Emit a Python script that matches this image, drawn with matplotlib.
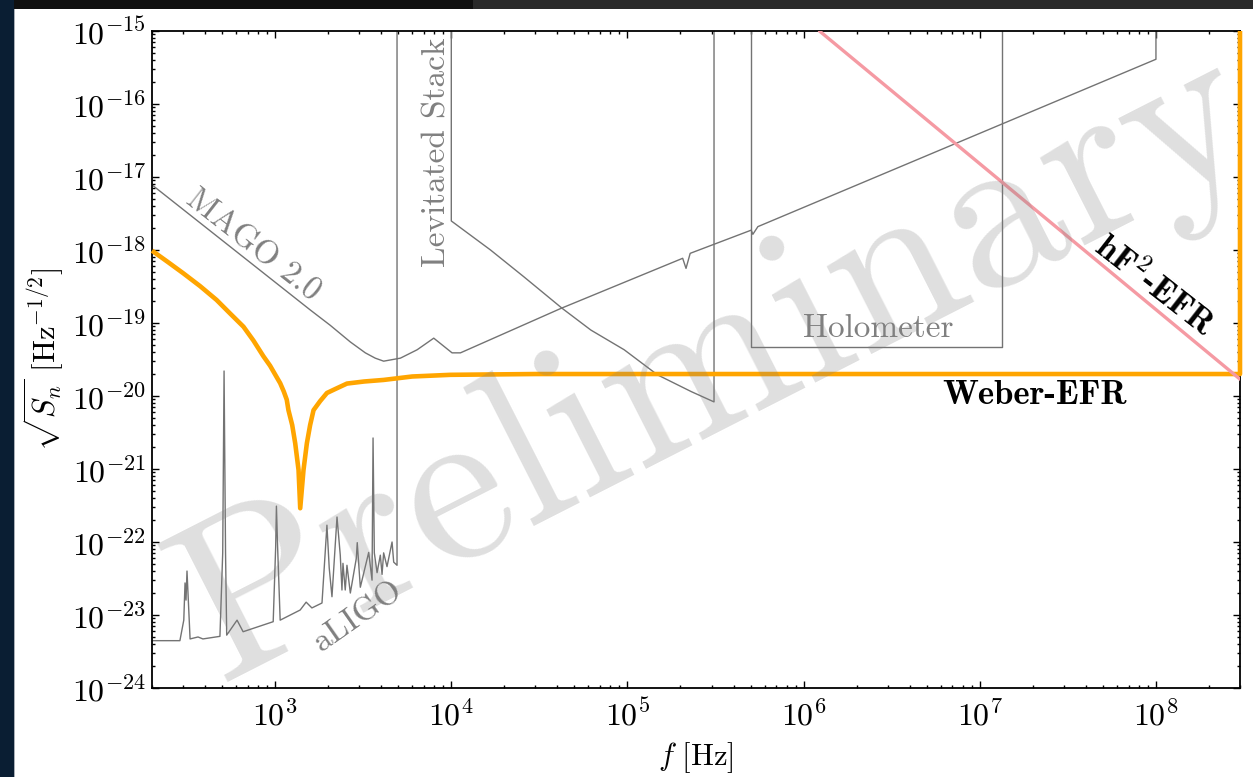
import matplotlib
matplotlib.use("Agg")
import numpy as np
import matplotlib.pyplot as plt
from matplotlib.patches import Rectangle
from matplotlib.ticker import NullFormatter, LogLocator

plt.rcParams.update({
    "font.family": "serif",
    "font.serif": ["cmr10", "DejaVu Serif"],
    "mathtext.fontset": "cm",
    "axes.formatter.use_mathtext": True,
    "axes.unicode_minus": True,
})

# Frequency axis range [Hz] and strain-noise range [Hz^-1/2]
f_range = (200, 3.0e8)
h_range = (1e-24, 1e-15)
f_ticks = [1e3, 1e4, 1e5, 1e6, 1e7, 1e8]
h_ticks = [1e-24, 1e-23, 1e-22, 1e-21, 1e-20, 1e-19, 1e-18, 1e-17, 1e-16, 1e-15]

# aLIGO design noise curve
aligo_f = [200, 288, 303, 308, 312, 316, 329, 365, 389, 486, 504, 513, 523, 531,
           608, 658, 975, 1007, 1017, 1033, 1068, 1387, 1500, 1617, 1845, 1968,
           2028, 2102, 2245, 2343, 2395, 2427, 2500, 2557, 2672, 2890, 2925, 3045,
           3397, 3549, 3596, 3656, 3790, 3955, 4045, 4130, 4316, 4610, 4710, 4920]
aligo_h = [4.45e-24, 4.45e-24, 8.5e-24, 2.75e-23, 1.6e-23, 4.0e-23, 4.7e-24, 5.0e-24,
           4.7e-24, 5.1e-24, 7.1e-23, 2.2e-20, 7.1e-23, 5.3e-24, 8.5e-24, 5.9e-24,
           8.1e-24, 8.5e-23, 3.1e-22, 8.5e-23, 8.5e-24, 1.17e-23, 1.5e-23, 1.25e-23,
           1.46e-23, 1.7e-22, 4.4e-23, 1.78e-23, 2.2e-22, 6.6e-23, 2.2e-23, 5.1e-23,
           2.2e-23, 4.8e-23, 2.0e-23, 6.0e-23, 9.8e-23, 2.4e-23, 7.2e-23, 3.0e-23,
           2.66e-21, 7.1e-23, 3.8e-23, 6.6e-23, 3.6e-23, 7.1e-23, 4.6e-23, 1.0e-22,
           5.3e-23, 4.8e-23]

# MAGO 2.0 projected sensitivity
mago_f = [200, 1582, 2055, 2672, 3251, 3700, 4130, 5140, 6400, 7950, 10100,
          11270, 41800, 2.058e5, 2.15e5, 2.27e5, 5.04e5, 5.15e5, 5.5e5, 1.0e8]
mago_h = [7.8e-18, 1.51e-19, 9.3e-20, 5.5e-20, 3.9e-20, 3.3e-20, 3.0e-20, 3.3e-20,
          4.3e-20, 6.2e-20, 3.9e-20, 3.9e-20, 1.58e-19, 7.7e-19, 5.6e-19, 9.0e-19,
          1.87e-18, 1.64e-18, 2.09e-18, 4.1e-16]

# Levitated sensor stack
lev_f = [1.0e4, 1.67e4, 2.58e4, 4.27e4, 6.2e4, 9.58e4, 1.48e5, 2.3e5, 3.1e5]
lev_h = [2.5e-18, 1.0e-18, 4.3e-19, 1.58e-19, 8.0e-20, 4.3e-20, 1.95e-20, 1.15e-20, 8.3e-21]

# Holometer band
holo_f = [5.04e5, 1.33e7]
holo_h = 4.7e-20

# hF^2 electromagnetic field resonator
hf2_f = [1.23e6, 3.0e8]
hf2_h = [1.0e-15, 1.7e-20]

# Weber bar electromagnetic field resonator
weber_f = [200, 247, 301, 375, 465, 555, 661, 753, 858, 936, 1022, 1068, 1120, 1164,
           1190, 1250, 1300, 1358, 1388, 1449, 1514, 1580, 1652, 1800, 1968, 2200,
           2557, 3200, 4130, 6000, 9890, 3.0e4, 1.0e5, 3.0e8]
weber_h = [9.8e-19, 6.8e-19, 4.8e-19, 3.2e-19, 2.07e-19, 1.35e-19, 8.9e-20, 5.75e-20,
           3.5e-20, 2.6e-20, 1.8e-20, 1.5e-20, 1.15e-20, 8.9e-21, 6.4e-21, 4.0e-21,
           2.25e-21, 9.7e-22, 2.9e-22, 9.7e-22, 2.25e-21, 4.0e-21, 6.4e-21, 8.5e-21,
           1.1e-20, 1.25e-20, 1.48e-20, 1.58e-20, 1.66e-20, 1.85e-20, 1.95e-20,
           2.0e-20, 2.0e-20, 2.0e-20]

TOP = h_range[1]  # open-ended bands are closed against the upper edge
GRAY = "0.45"
LABEL_GRAY = "0.5"

fig = plt.figure(figsize=(12.53, 7.77), dpi=100)
fig.patch.set_facecolor("white")

# dark frame around the slide
fig.add_artist(Rectangle((0, 1 - 9 / 777), 473 / 1253, 9 / 777, transform=fig.transFigure,
                         facecolor="#101010", edgecolor="none", zorder=-5))
fig.add_artist(Rectangle((473 / 1253, 1 - 9 / 777), 1, 9 / 777, transform=fig.transFigure,
                         facecolor="#2a2a2a", edgecolor="none", zorder=-5))
fig.add_artist(Rectangle((0, 0), 14 / 1253, 1, transform=fig.transFigure,
                         facecolor="#0a1e33", edgecolor="none", zorder=-4))
fig.add_artist(Rectangle((14 / 1253, 0), 1 / 1253, 1 - 9 / 777, transform=fig.transFigure,
                         facecolor="#aab0b8", edgecolor="none", zorder=-4))

ax = fig.add_axes([152 / 1253, 1 - 688 / 777, 1088 / 1253, 657 / 777])
ax.set_xscale("log")
ax.set_yscale("log")
ax.set_xlim(*f_range)
ax.set_ylim(*h_range)

lw_thin = 1.0
ax.plot(aligo_f + [aligo_f[-1]], aligo_h + [TOP], color=GRAY, lw=lw_thin)
ax.plot(mago_f + [mago_f[-1]], mago_h + [TOP], color=GRAY, lw=lw_thin)
ax.plot([lev_f[0]] + lev_f + [lev_f[-1]], [TOP] + lev_h + [TOP], color=GRAY, lw=lw_thin)
ax.plot([holo_f[0], holo_f[0], holo_f[1], holo_f[1]], [TOP, holo_h, holo_h, TOP],
        color=GRAY, lw=lw_thin)
ax.plot(weber_f + [weber_f[-1]], weber_h + [TOP], color="orange", lw=3.3,
        solid_joinstyle="round", solid_capstyle="butt", zorder=4, clip_on=False)
ax.plot(hf2_f, hf2_h, color="#f59aa3", lw=2.4, solid_capstyle="round", zorder=5)

# curve labels
ax.text(750, 1.17e-18, "MAGO 2.0", rotation=-38, ha="center", va="center",
        rotation_mode="anchor", color=LABEL_GRAY, fontsize=24)
ax.text(8340, 2.2e-17, "Levitated Stack", rotation=90, ha="center", va="center",
        rotation_mode="anchor", color=LABEL_GRAY, fontsize=24)
ax.text(2.65e6, 8.5e-20, "Holometer", ha="center", va="center",
        color=LABEL_GRAY, fontsize=24)
ax.text(2966, 9.4e-24, "aLIGO", rotation=35, ha="center", va="center",
        rotation_mode="anchor", color=LABEL_GRAY, fontsize=24)
ax.text(9.75e7, 3.3e-19, r"$\mathbf{hF^2}$-EFR", rotation=-38, ha="center", va="center",
        rotation_mode="anchor", color="black", fontsize=25, family="cmb10")
ax.text(2.05e7, 1.0e-20, "Weber-EFR", ha="center", va="center",
        color="black", fontsize=25, family="cmb10")

# watermark
ax.text(0.52, 0.49, "Preliminary", transform=ax.transAxes, rotation=27,
        ha="center", va="center", rotation_mode="anchor", fontsize=164,
        color="0.5", alpha=0.25, zorder=10)

ax.set_xticks(f_ticks)
ax.set_yticks(h_ticks)
ax.xaxis.set_minor_locator(LogLocator(base=10, subs=np.arange(2, 10), numticks=100))
ax.yaxis.set_minor_locator(LogLocator(base=10, subs=np.arange(2, 10), numticks=100))
ax.xaxis.set_minor_formatter(NullFormatter())
ax.yaxis.set_minor_formatter(NullFormatter())

ax.tick_params(which="both", direction="in", top=True, right=True, width=1.0)
ax.tick_params(which="major", length=5, labelsize=23)
ax.tick_params(which="minor", length=2.5)
ax.tick_params(axis="x", which="major", pad=8)
ax.tick_params(axis="y", which="major", pad=4)
for s in ax.spines.values():
    s.set_linewidth(1.3)

ax.set_xlabel(r"$f\ [\mathrm{Hz}]$", fontsize=22, labelpad=6)
ax.set_ylabel(r"$\sqrt{S_n}\ [\mathrm{Hz}^{-1/2}]$", fontsize=22, labelpad=4)

fig.savefig("out.png", dpi=100, facecolor=fig.get_facecolor())
